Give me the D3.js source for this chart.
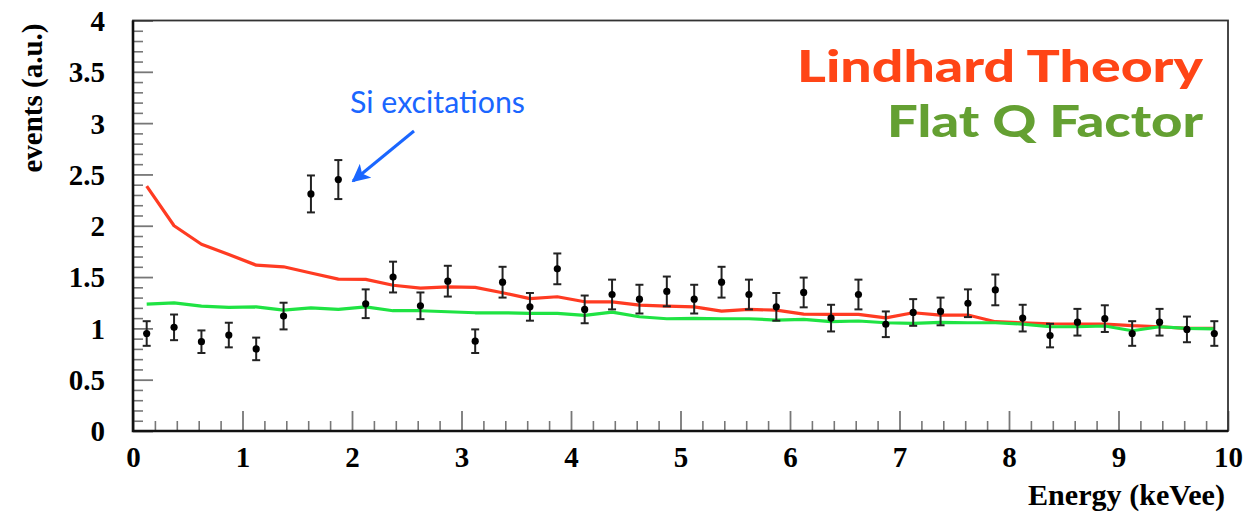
<!DOCTYPE html>
<html>
<head>
<meta charset="utf-8">
<script src="https://cdn.jsdelivr.net/npm/d3@7"></script>
<style>
  html, body { margin: 0; padding: 0; background: #fff; }
  svg { display: block; }
</style>
</head>
<body>
<svg id="chart" width="1243" height="513"></svg>
<script>
// Bin centres (keVee), 0.25 keVee wide bins
const energy = [0.125, 0.375, 0.625, 0.875, 1.125, 1.375, 1.625, 1.875, 2.125, 2.375,
  2.625, 2.875, 3.125, 3.375, 3.625, 3.875, 4.125, 4.375, 4.625, 4.875,
  5.125, 5.375, 5.625, 5.875, 6.125, 6.375, 6.625, 6.875, 7.125, 7.375,
  7.625, 7.875, 8.125, 8.375, 8.625, 8.875, 9.125, 9.375, 9.625, 9.875];

// Measured events per bin and their uncertainties
const events = [0.95, 1.01, 0.87, 0.935, 0.80, 1.12, 2.31, 2.45, 1.24, 1.50,
  1.22, 1.46, 0.875, 1.45, 1.21, 1.58, 1.185, 1.33, 1.285, 1.36,
  1.285, 1.45, 1.33, 1.21, 1.35, 1.10, 1.33, 1.04, 1.155, 1.165,
  1.245, 1.375, 1.10, 0.93, 1.06, 1.095, 0.95, 1.06, 0.99, 0.95];
const errors = [0.12, 0.125, 0.11, 0.12, 0.11, 0.13, 0.18, 0.19, 0.14, 0.15,
  0.13, 0.15, 0.115, 0.15, 0.135, 0.15, 0.135, 0.145, 0.14, 0.145,
  0.14, 0.15, 0.145, 0.135, 0.145, 0.13, 0.145, 0.125, 0.13, 0.135,
  0.135, 0.15, 0.13, 0.115, 0.13, 0.13, 0.12, 0.13, 0.125, 0.12];

// Model predictions per bin
const lindhard = [2.386, 2.0, 1.82, 1.72, 1.616, 1.60, 1.54, 1.48, 1.477, 1.42,
  1.392, 1.405, 1.40, 1.347, 1.29, 1.308, 1.259, 1.259, 1.227, 1.217,
  1.21, 1.168, 1.185, 1.178, 1.139, 1.136, 1.137, 1.103, 1.152, 1.13,
  1.13, 1.065, 1.055, 1.045, 1.042, 1.042, 1.026, 1.016, 1.0, 1.0];
const flatQ = [1.237, 1.249, 1.217, 1.204, 1.21, 1.178, 1.2, 1.185, 1.21, 1.172,
  1.172, 1.162, 1.152, 1.152, 1.146, 1.146, 1.126, 1.159, 1.113, 1.094,
  1.097, 1.094, 1.094, 1.081, 1.087, 1.065, 1.072, 1.055, 1.048, 1.058,
  1.055, 1.055, 1.042, 1.016, 1.016, 1.023, 0.977, 1.016, 1.0, 0.996];

// Axis ticks
const xTicks = [0, 1, 2, 3, 4, 5, 6, 7, 8, 9, 10];
const xMinorTicks = [0.2, 0.4, 0.6, 0.8, 1.2, 1.4, 1.6, 1.8, 2.2, 2.4, 2.6, 2.8, 3.2, 3.4, 3.6, 3.8,
  4.2, 4.4, 4.6, 4.8, 5.2, 5.4, 5.6, 5.8, 6.2, 6.4, 6.6, 6.8, 7.2, 7.4, 7.6, 7.8,
  8.2, 8.4, 8.6, 8.8, 9.2, 9.4, 9.6, 9.8];
const yTicks = [0, 0.5, 1, 1.5, 2, 2.5, 3, 3.5, 4];
const yTickLabels = ["0", "0.5", "1", "1.5", "2", "2.5", "3", "3.5", "4"];
const yMinorTicks = [0.1, 0.2, 0.3, 0.4, 0.6, 0.7, 0.8, 0.9, 1.1, 1.2, 1.3, 1.4, 1.6, 1.7, 1.8, 1.9,
  2.1, 2.2, 2.3, 2.4, 2.6, 2.7, 2.8, 2.9, 3.1, 3.2, 3.3, 3.4, 3.6, 3.7, 3.8, 3.9];

const xTitle = "Energy (keVee)";
const yTitle = "events (a.u.)";
const legendLabels = ["Lindhard Theory", "Flat Q Factor"];
const noteLabel = "Si excitations";

const svg = d3.select("#chart");
const plot = { left: 133, right: 1228, top: 20.5, bottom: 431 };

const x = d3.scaleLinear().domain([0, 10]).range([plot.left, plot.right]);
const y = d3.scaleLinear().domain([0, 4]).range([plot.bottom, plot.top]);

const serif = "'Liberation Serif', 'Times New Roman', serif";
const sans = "Lato, 'Open Sans', sans-serif";

// Minor ticks (inside the frame)
svg.append("g")
  .attr("transform", `translate(0,${plot.bottom})`)
  .call(d3.axisBottom(x).tickValues(xMinorTicks).tickSize(-10).tickFormat(""))
  .call(g => g.select(".domain").remove())
  .call(g => g.selectAll("line").attr("stroke", "#777").attr("stroke-width", 1.6));
svg.append("g")
  .attr("transform", `translate(${plot.left},0)`)
  .call(d3.axisLeft(y).tickValues(yMinorTicks).tickSize(-10).tickFormat(""))
  .call(g => g.select(".domain").remove())
  .call(g => g.selectAll("line").attr("stroke", "#777").attr("stroke-width", 1.6));

// Major ticks with labels
svg.append("g")
  .attr("transform", `translate(0,${plot.bottom})`)
  .call(d3.axisBottom(x).tickValues(xTicks).tickSize(-20).tickPadding(0).tickFormat(d3.format("d")))
  .call(g => g.select(".domain").remove())
  .call(g => g.selectAll("line").attr("stroke", "#777").attr("stroke-width", 1.8))
  .call(g => g.selectAll("text")
    .attr("y", 36).attr("dy", 0)
    .attr("fill", "#000")
    .style("font-family", serif).style("font-weight", "bold").style("font-size", "29px"));

svg.append("g")
  .attr("transform", `translate(${plot.left},0)`)
  .call(d3.axisLeft(y).tickValues(yTicks).tickSize(-20).tickPadding(28)
    .tickFormat((d, i) => yTickLabels[i]))
  .call(g => g.select(".domain").remove())
  .call(g => g.selectAll("line").attr("stroke", "#777").attr("stroke-width", 1.8))
  .call(g => g.selectAll("text")
    .attr("dy", "0.34em")
    .attr("fill", "#000")
    .style("font-family", serif).style("font-weight", "bold").style("font-size", "29px"));

// Frame
svg.append("rect")
  .attr("x", plot.left).attr("y", plot.top)
  .attr("width", plot.right - plot.left).attr("height", plot.bottom - plot.top)
  .attr("fill", "none").attr("stroke", "#333").attr("stroke-width", 1.8);
svg.append("path")
  .attr("d", `M${plot.left},${plot.top}V${plot.bottom}H${plot.right}`)
  .attr("fill", "none").attr("stroke", "#111").attr("stroke-width", 2.6);

// Model curves
const line = d3.line().x((d, i) => x(energy[i])).y(d => y(d));
svg.append("path").datum(lindhard)
  .attr("d", line).attr("fill", "none")
  .attr("stroke", "#ff3b22").attr("stroke-width", 3.2).attr("stroke-linejoin", "round");
svg.append("path").datum(flatQ)
  .attr("d", line).attr("fill", "none")
  .attr("stroke", "#1fe343").attr("stroke-width", 3.2).attr("stroke-linejoin", "round");

// Data points with error bars
const pts = svg.append("g").selectAll("g").data(events).join("g");
pts.append("line")
  .attr("x1", (d, i) => x(energy[i])).attr("x2", (d, i) => x(energy[i]))
  .attr("y1", (d, i) => y(d + errors[i])).attr("y2", (d, i) => y(d - errors[i]))
  .attr("stroke", "#222").attr("stroke-width", 2);
[1, -1].forEach(s => {
  pts.append("line")
    .attr("x1", (d, i) => x(energy[i]) - 4).attr("x2", (d, i) => x(energy[i]) + 4)
    .attr("y1", (d, i) => y(d + s * errors[i])).attr("y2", (d, i) => y(d + s * errors[i]))
    .attr("stroke", "#222").attr("stroke-width", 2);
});
pts.append("circle")
  .attr("cx", (d, i) => x(energy[i])).attr("cy", d => y(d))
  .attr("r", 3.6).attr("fill", "#000");

// Axis titles
svg.append("text")
  .attr("x", 1225).attr("y", 505)
  .attr("text-anchor", "end")
  .attr("textLength", 197).attr("lengthAdjust", "spacingAndGlyphs")
  .style("font-family", serif).style("font-weight", "bold").style("font-size", "29px")
  .text(xTitle);
svg.append("text")
  .attr("transform", "translate(42,98) rotate(-90)")
  .attr("text-anchor", "middle")
  .style("font-family", serif).style("font-weight", "bold").style("font-size", "29px")
  .text(yTitle);

// Legend
const legendColors = ["#ff4516", "#64a032"];
const legendBaselines = [81.5, 136.5];
const legendWidths = [406, 316];
legendLabels.forEach((t, i) => {
  svg.append("text")
    .attr("x", 1203).attr("y", legendBaselines[i])
    .attr("text-anchor", "end")
    .attr("textLength", legendWidths[i]).attr("lengthAdjust", "spacingAndGlyphs")
    .attr("fill", legendColors[i])
    .style("font-family", sans).style("font-weight", 900).style("font-size", "43px")
    .text(t);
});

// Annotation
svg.append("text")
  .attr("x", 350).attr("y", 113)
  .attr("textLength", 175).attr("lengthAdjust", "spacingAndGlyphs")
  .attr("fill", "#1a66ff")
  .style("font-family", sans).style("font-size", "30px")
  .text(noteLabel);

svg.append("defs").append("marker")
  .attr("id", "arrowhead")
  .attr("viewBox", "0 0 10 10").attr("refX", 9).attr("refY", 5)
  .attr("markerWidth", 6).attr("markerHeight", 6).attr("markerUnits", "strokeWidth")
  .attr("orient", "auto")
  .append("path").attr("d", "M0,0L10,5L0,10L2.5,5Z").attr("fill", "#1a66ff");
svg.append("line")
  .attr("x1", 414).attr("y1", 131).attr("x2", 353).attr("y2", 181)
  .attr("stroke", "#1a66ff").attr("stroke-width", 3)
  .attr("marker-end", "url(#arrowhead)");
</script>
</body>
</html>
